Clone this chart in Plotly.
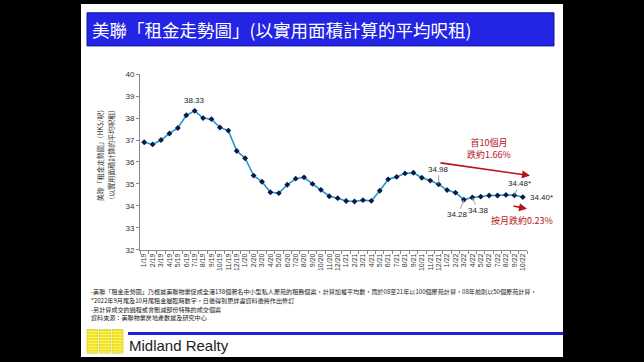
import plotly.graph_objects as go

W, H = 644, 362

months = [f"{m}/{y}" for y in (19, 20, 21, 22) for m in range(1, 13)][:46]
rents = [
    36.9, 36.8, 37.0, 37.3, 37.55, 38.13, 38.33, 38.0, 37.95, 37.57, 37.43, 36.5,
    36.17, 35.38, 35.1, 34.62, 34.58, 34.96, 35.24, 35.3, 35.0, 34.73, 34.44, 34.35,
    34.22, 34.2, 34.26, 34.23, 34.69, 35.21, 35.32, 35.48, 35.51, 35.28, 35.15, 34.98,
    34.72, 34.6, 34.28, 34.38, 34.42, 34.47, 34.47, 34.5, 34.48, 34.40,
]
y_ticks = [32, 33, 34, 35, 36, 37, 38, 39, 40]

title = "美聯「租金走勢圖」(以實用面積計算的平均呎租)"
ytitle1 = "美聯「租金走勢圖」(HK$/呎)"
ytitle2 = "(以實用面積計算的平均呎租)"
notes = [
    "-美聯「租金走勢圖」乃根據美聯物業促成全港138個著名中小型私人屋苑的租務個案，計算加權平均數，而於08至21年以100個屋苑計算，08年前則以50個屋苑計算，",
    "*2022年9月尾及10月尾租金屬臨時數字，日後得到更詳盡資料後將作出修訂",
    "-另計算成交的過程或會刪減部份特殊的成交個案",
    "資料來源：美聯物業房地產數據及研究中心",
]

CJK = "Noto Sans CJK TC"


def px(x):
    return x / W


def py(y):
    return 1 - y / H


fig = go.Figure()
fig.add_trace(go.Scatter(
    x=months, y=rents, mode="lines+markers",
    line=dict(color="#1e9ad0", width=1.6),
    marker=dict(symbol="diamond", size=4.5, color="#0b1a48"),
    hoverinfo="x+y", showlegend=False,
))

shapes = [
    dict(type="rect", xref="paper", yref="paper", x0=px(81), x1=px(563), y0=0, y1=1,
         fillcolor="white", line=dict(width=0), layer="below"),
    dict(type="rect", xref="paper", yref="paper", x0=px(87), x1=px(554), y0=py(43), y1=py(9),
         fillcolor="#2424e4", line=dict(color="#1414a0", width=1), layer="below"),
    dict(type="line", xref="paper", yref="paper", x0=px(128), x1=px(563), y0=py(338), y1=py(338),
         line=dict(color="#2020d8", width=3)),
]
for x0, x1 in [(87, 98), (99.5, 110.5), (112, 123)]:
    shapes.append(dict(type="rect", xref="paper", yref="paper", x0=px(x0), x1=px(x1),
                       y0=py(358), y1=py(334), fillcolor="#f2e31c",
                       line=dict(color="#b8a800", width=0.5)))
for yy in range(336, 358, 3):
    shapes.append(dict(type="line", xref="paper", yref="paper", x0=px(87), x1=px(123),
                       y0=py(yy), y1=py(yy), line=dict(color="#fff9b0", width=0.7)))

lab = dict(family="Liberation Sans", size=8, color="#222")
red = dict(family=CJK, size=9, color="#b8141c")
annotations = [
    dict(text=title, xref="paper", yref="paper", x=px(90), y=py(26), xanchor="left",
         yanchor="middle", showarrow=False,
         font=dict(family=CJK, size=17.5, color="white")),
    dict(text=ytitle1, xref="paper", yref="paper", x=px(100), y=py(155), textangle=-90,
         xanchor="center", yanchor="middle",
         showarrow=False, font=dict(family=CJK, size=7, color="#333")),
    dict(text=ytitle2, xref="paper", yref="paper", x=px(111), y=py(155), textangle=-90,
         xanchor="center", yanchor="middle",
         showarrow=False, font=dict(family=CJK, size=7, color="#333")),
    dict(text="Midland Realty", xref="paper", yref="paper", x=px(127), y=py(350),
         xanchor="left", yanchor="middle", showarrow=False,
         font=dict(family="Liberation Sans", size=15, color="#222")),
    dict(x=months[6], y=rents[6], text="38.33", showarrow=False, yshift=10, font=lab),
    dict(x=months[35], y=rents[35], text="34.98", showarrow=True, ax=0, ay=-15,
         arrowhead=0, arrowwidth=0.8, arrowcolor="#888", font=lab),
    dict(x=months[38], y=rents[38], text="34.28", showarrow=True, ax=-6, ay=15,
         arrowhead=2, arrowsize=0.6, arrowwidth=0.8, arrowcolor="#888", font=lab),
    dict(x=months[39], y=rents[39], text="34.38", showarrow=True, ax=6, ay=13,
         arrowhead=2, arrowsize=0.6, arrowwidth=0.8, arrowcolor="#888", font=lab),
    dict(x=months[44], y=rents[44], text="34.48*", showarrow=True, ax=5, ay=-12,
         arrowhead=2, arrowsize=0.6, arrowwidth=0.8, arrowcolor="#888", font=lab),
    dict(x=months[45], y=rents[45], text="34.40*", showarrow=False, xanchor="left",
         xshift=5, font=lab),
    dict(text="首10個月<br>跌約1.66%", xref="paper", yref="paper", x=px(489), y=py(148),
         xanchor="center", yanchor="middle", showarrow=False, font=red),
    dict(xref="paper", yref="paper", x=px(530), y=py(176), ax=-91, ay=-13, text="",
         showarrow=True, arrowhead=2, arrowsize=1, arrowwidth=1.6, arrowcolor="#b8141c"),
    dict(xref="paper", yref="paper", x=px(527), y=py(210), ax=-15, ay=-3, text="",
         showarrow=True, arrowhead=2, arrowsize=1, arrowwidth=1.6, arrowcolor="#b8141c"),
    dict(text="按月跌約0.23%", xref="paper", yref="paper", x=px(522), y=py(222),
         xanchor="center", yanchor="middle", showarrow=False, font=red),
]
for t, yy in zip(notes, [295, 304, 313, 322]):
    annotations.append(dict(text=t, xref="paper", yref="paper", x=px(89), y=py(yy),
                            xanchor="left", yanchor="middle", showarrow=False,
                            font=dict(family=CJK, size=6.1, color="#222")))

fig.update_layout(
    width=W, height=H, margin=dict(l=0, r=0, t=0, b=0),
    paper_bgcolor="black", plot_bgcolor="white",
    shapes=shapes, annotations=annotations,
    xaxis=dict(domain=[px(140), px(527)], type="category", range=[-0.5, 45.5],
               tickmode="array", tickvals=months, ticktext=months,
               tickangle=-90, tickson="boundaries", ticks="outside", ticklen=3,
               tickcolor="#888", showline=True, linecolor="#888", linewidth=1,
               showgrid=False, tickfont=dict(family="Liberation Sans", size=7, color="#333")),
    yaxis=dict(domain=[py(252), py(72)], range=[32, 40], tickvals=y_ticks,
               ticks="outside", ticklen=3, tickcolor="#888", showline=True,
               linecolor="#888", linewidth=1, showgrid=False, zeroline=False,
               tickfont=dict(family="Liberation Sans", size=8, color="#333")),
)

fig.write_html(
    "out.html",
    config={"displayModeBar": False},
    post_script="document.body.style.margin='0';document.body.style.background='black';",
)
